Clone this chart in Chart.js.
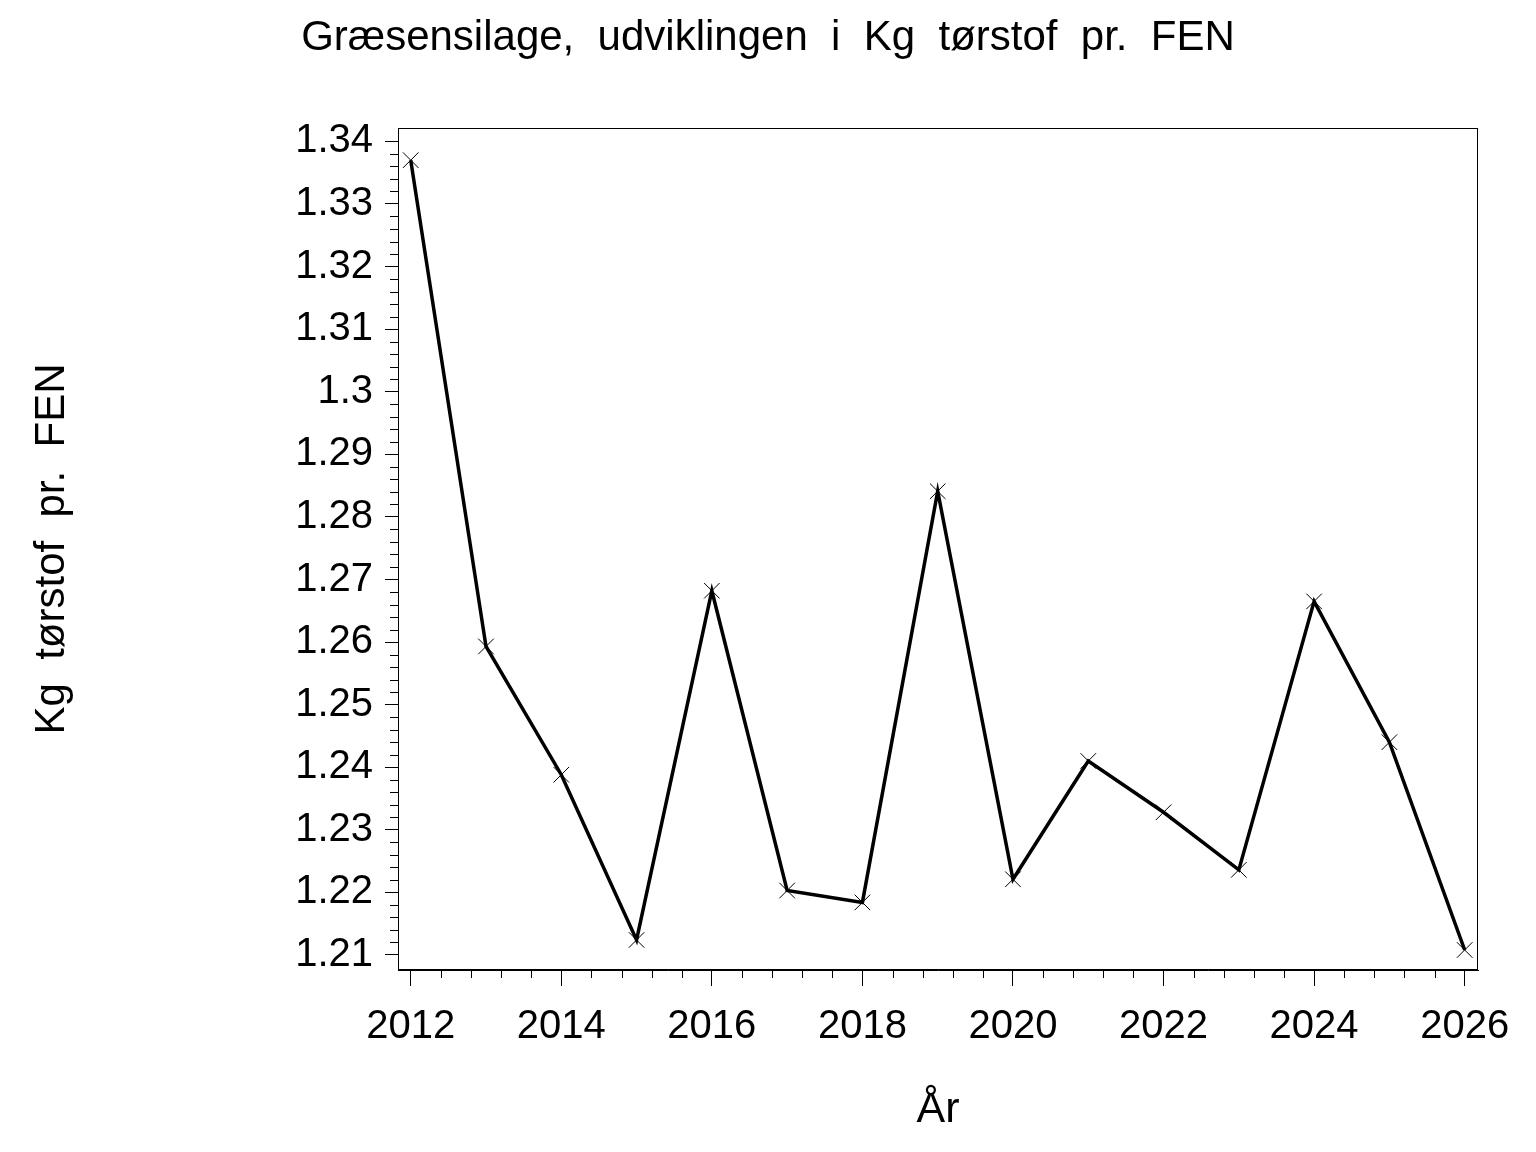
<!DOCTYPE html>
<html>
<head>
<meta charset="utf-8">
<title>Græsensilage, udviklingen i Kg tørstof pr. FEN</title>
<script src="https://cdn.jsdelivr.net/npm/chart.js@4.4.1/dist/chart.umd.min.js"></script>
<style>
  html, body { margin: 0; padding: 0; background: #fff; }
  #chart { display: block; }
</style>
</head>
<body>
<canvas id="chart" width="1536" height="1152"></canvas>
<script>
// values
const years = [2012, 2013, 2014, 2015, 2016, 2017, 2018, 2019, 2020, 2021, 2022, 2023, 2024, 2025, 2026];
const kgPerFen = [1.3370, 1.2593, 1.2388, 1.2124, 1.2682, 1.2203, 1.2184, 1.2841, 1.2221, 1.2410, 1.2328, 1.2236, 1.2665, 1.2440, 1.2108];

const xTickYears = [2012, 2014, 2016, 2018, 2020, 2022, 2024, 2026];
const yTickValues = [1.21, 1.22, 1.23, 1.24, 1.25, 1.26, 1.27, 1.28, 1.29, 1.30, 1.31, 1.32, 1.33, 1.34];
const xMinorStep = 0.4;
const yMinorStep = 0.002;

const FONT = '"Liberation Sans", Arial, Helvetica, sans-serif';
Chart.defaults.font.family = FONT;
Chart.defaults.color = '#000';

// full box around the plot area
const plotFrame = {
  id: 'plotFrame',
  afterDraw(chart) {
    const { ctx, chartArea: a } = chart;
    ctx.save();
    ctx.strokeStyle = '#000';
    ctx.lineWidth = 1;
    const l = Math.round(a.left) + 0.5, t = Math.round(a.top) + 0.5;
    const r = Math.round(a.right) - 0.5, b = Math.round(a.bottom) - 0.5;
    ctx.strokeRect(l, t, r - l, b - t);
    ctx.restore();
  }
};

// short minor tick marks between the labelled ones
const minorTicks = {
  id: 'minorTicks',
  afterDraw(chart) {
    const { ctx, chartArea: a, scales } = chart;
    ctx.save();
    ctx.strokeStyle = '#000';
    ctx.lineWidth = 1;
    ctx.beginPath();

    const x0 = xTickYears[0], x1 = xTickYears[xTickYears.length - 1];
    const nx = Math.round((x1 - x0) / xMinorStep);
    for (let i = 0; i <= nx; i++) {
      const v = x0 + i * xMinorStep;
      if (xTickYears.some(t => Math.abs(t - v) < 1e-6)) continue;
      const px = Math.round(scales.x.getPixelForValue(v)) + 0.5;
      ctx.moveTo(px, a.bottom);
      ctx.lineTo(px, a.bottom + 8);
    }

    const y0 = yTickValues[0], y1 = yTickValues[yTickValues.length - 1];
    const ny = Math.round((y1 - y0) / yMinorStep);
    for (let i = 0; i <= ny; i++) {
      const v = y0 + i * yMinorStep;
      if (yTickValues.some(t => Math.abs(t - v) < 1e-6)) continue;
      const py = Math.round(scales.y.getPixelForValue(v)) + 0.5;
      ctx.moveTo(a.left - 8, py);
      ctx.lineTo(a.left, py);
    }
    ctx.stroke();
    ctx.restore();
  }
};

new Chart(document.getElementById('chart'), {
  type: 'line',
  data: {
    datasets: [{
      data: years.map((yr, i) => ({ x: yr, y: kgPerFen[i] })),
      borderColor: '#000',
      borderWidth: 3.5,
      tension: 0,
      fill: false,
      pointStyle: 'crossRot',
      pointRadius: 11,
      pointHoverRadius: 11,
      pointBorderWidth: 1,
      pointBorderColor: '#000',
      pointBackgroundColor: '#000'
    }]
  },
  options: {
    responsive: false,
    animation: false,
    devicePixelRatio: 1,
    layout: { padding: 0 },
    plugins: {
      legend: { display: false },
      tooltip: { enabled: false },
      title: {
        display: true,
        text: 'Græsensilage,  udviklingen  i  Kg  tørstof  pr.  FEN',
        color: '#000',
        font: { size: 42, weight: 'normal', lineHeight: 1.2 },
        padding: { top: 13, bottom: 64.6 }
      }
    },
    scales: {
      x: {
        type: 'linear',
        min: 2011.831,
        max: 2026.177,
        afterBuildTicks(scale) {
          scale.ticks = xTickYears.map(v => ({ value: v }));
        },
        afterFit(scale) { scale.height = 182; },
        grid: { drawOnChartArea: false, drawTicks: true, tickLength: 16, tickColor: '#000', tickWidth: 1 },
        border: { display: true, color: '#000', width: 1 },
        ticks: {
          color: '#000',
          font: { size: 40 },
          padding: 17,
          maxRotation: 0,
          autoSkip: false,
          callback: v => String(v)
        },
        title: {
          display: true,
          text: 'År',
          color: '#000',
          font: { size: 43, lineHeight: 1.2 },
          padding: { top: 0, bottom: 16 }
        }
      },
      y: {
        type: 'linear',
        min: 1.2076,
        max: 1.34214,
        afterBuildTicks(scale) {
          scale.ticks = yTickValues.map(v => ({ value: v }));
        },
        afterFit(scale) { scale.width = 398; },
        grid: { drawOnChartArea: false, drawTicks: true, tickLength: 13, tickColor: '#000', tickWidth: 1 },
        border: { display: true, color: '#000', width: 1 },
        ticks: {
          color: '#000',
          font: { size: 40 },
          padding: 12,
          autoSkip: false,
          callback: v => String(Number(v.toFixed(2)))
        },
        title: {
          display: true,
          text: 'Kg  tørstof  pr.  FEN',
          color: '#000',
          font: { size: 42, lineHeight: 1.2 },
          padding: { top: 27, bottom: 0 }
        }
      },
      // empty strip on the right so the title is centred on the whole page
      rightGap: {
        type: 'linear',
        position: 'right',
        display: true,
        afterFit(scale) { scale.width = 58; },
        grid: { display: false },
        border: { display: false },
        ticks: { display: false }
      }
    }
  },
  plugins: [plotFrame, minorTicks]
});
</script>
</body>
</html>
